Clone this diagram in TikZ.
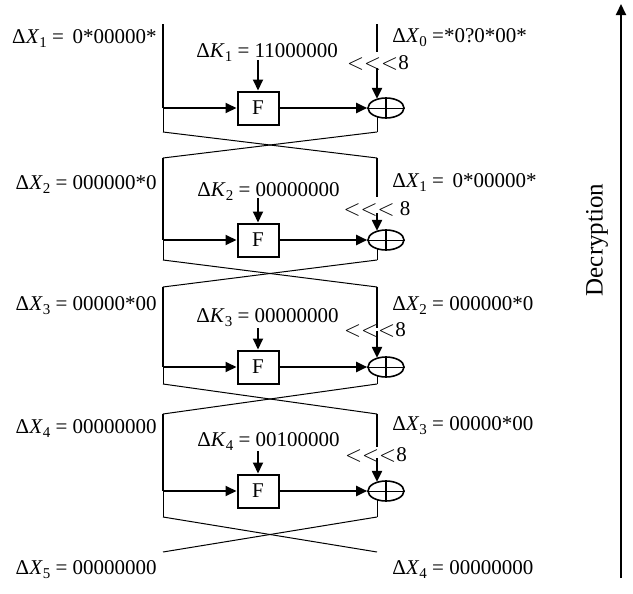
\documentclass[tikz,border=0pt]{standalone}
\usepackage{fontspec}
\setmainfont{Liberation Serif}
\usetikzlibrary{positioning,arrows.meta,shapes.geometric}
\newcommand{\dvar}[2]{Δ\textit{#1}\raisebox{-0.45ex}{\fontsize{7.5}{8}\selectfont #2}}
\newcommand{\rotl}{{$<$}{$<$}{$<$}}
\tikzset{%
  thick line/.style={line width=1pt},
  thin line/.style={line width=0.5pt},
  fbox/.style={
    draw,
    line width=1pt,
    minimum width=20.5pt,
    minimum height=16.5pt,
    inner sep=0pt,
    font=\fontsize{10.5}{12}\selectfont
  },
  xor/.style={
    ellipse,
    draw,
    line width=0.8pt,
    minimum width=18pt,
    minimum height=10pt,
    inner sep=0pt
  },
  lbl/.style={inner sep=0pt, font=\fontsize{10.5}{12}\selectfont},
}

\begin{document}
\begin{tikzpicture}[> = {Triangle[length=5.5pt,width=5pt]}, x=0.5pt, y=-0.5pt]
\useasboundingbox (0,0) rectangle (633,594);
    \foreach \i/\top/\fy/\bot/\nxt/\kt/\ra/\rb in {1/24/108/132/158/60/52/68, 2/158/240/260/287/198/197/213, 3/287/367/384/414/328/328/331, 4/414/491/517/552/451/447/458}
    {
        \coordinate (lt_\i) at (163,\top);
        \coordinate (rt_\i) at (377,\top);
        \coordinate (lm_\i) at (163,\fy);
        \coordinate (lb_\i) at (163,\bot);
        \coordinate (rb_\i) at (377,\bot);
        \coordinate (ra_\i) at (377,\ra);
        \coordinate (rs_\i) at (377,\rb);
        \coordinate (kt_\i) at (258,\kt);
        \coordinate (ln_\i) at (163,\nxt);
        \coordinate (rn_\i) at (377,\nxt);
        \node[fbox] (F_\i) at (258,\fy) {F};
        \node[xor] (xor_\i) at (386,\fy) {};
        \draw[thick line] (xor_\i.north) -- (xor_\i.south);
        \draw[thin line] (xor_\i.west) -- (xor_\i.east);

        \draw[thick line] (lt_\i) -- (lm_\i);
        \draw[thin line] (lm_\i) -- (lb_\i);
        \draw[thick line, ->] (lm_\i) -- (F_\i);
        \draw[thick line, ->] (F_\i) -- (xor_\i);
        \draw[thick line, ->] (kt_\i) -- (F_\i);
        \draw[thick line] (rt_\i) -- (ra_\i);
        \draw[thick line, ->] (rs_\i) -- (rs_\i |- xor_\i.138);
        \draw[thin line] (rb_\i |- xor_\i.222) -- (rb_\i);
        \draw[thin line] (lb_\i) -- (rn_\i);
        \draw[thin line] (rb_\i) -- (ln_\i);
    }

    % left side
    \node[lbl, anchor=base east] (xl_1) at (157,43) {\dvar{X}{1} =\, 0*00000*};
    \node[lbl, anchor=base east] (xl_2) at (157,189) {\dvar{X}{2} = 000000*0};
    \node[lbl, anchor=base east] (xl_3) at (157,310) {\dvar{X}{3} = 00000*00};
    \node[lbl, anchor=base east] (xl_4) at (157,433) {\dvar{X}{4} = 00000000};
    \node[lbl, anchor=base east] (xl_5) at (157,574) {\dvar{X}{5} = 00000000};

    % right side
    \node[lbl, anchor=base west] (xr_0) at (392,42) {\dvar{X}{0} =*0?0*00*};
    \node[lbl, anchor=base west] (xr_1) at (392,187) {\dvar{X}{1} =\, 0*00000*};
    \node[lbl, anchor=base west] (xr_2) at (392,310) {\dvar{X}{2} = 000000*0};
    \node[lbl, anchor=base west] (xr_3) at (392,430) {\dvar{X}{3} = 00000*00};
    \node[lbl, anchor=base west] (xr_4) at (392,574) {\dvar{X}{4} = 00000000};

    % round keys
    \node[lbl, anchor=base west] (k_1) at (196,57) {\dvar{K}{1} = 11000000};
    \node[lbl, anchor=base west] (k_2) at (197,196) {\dvar{K}{2} = 00000000};
    \node[lbl, anchor=base west] (k_3) at (196,322) {\dvar{K}{3} = 00000000};
    \node[lbl, anchor=base west] (k_4) at (197,446) {\dvar{K}{4} = 00100000};

    % rotations
    \node[lbl] (sh_1) at (378,63) {\rotl8};
    \node[lbl] (sh_2) at (377,209) {\rotl\ 8};
    \node[lbl] (sh_3) at (375,330) {\rotl8};
    \node[lbl] (sh_4) at (376,455) {\rotl8};

    \coordinate (dec_bot) at (621,578);
    \coordinate (dec_top) at (621,4);
    \draw[thick line, ->] (dec_bot) -- (dec_top);
    \node[lbl, rotate=90, font=\fontsize{12.5}{14}\selectfont] (dec) at (597,240) {Decryption};
\end{tikzpicture}
\end{document}
